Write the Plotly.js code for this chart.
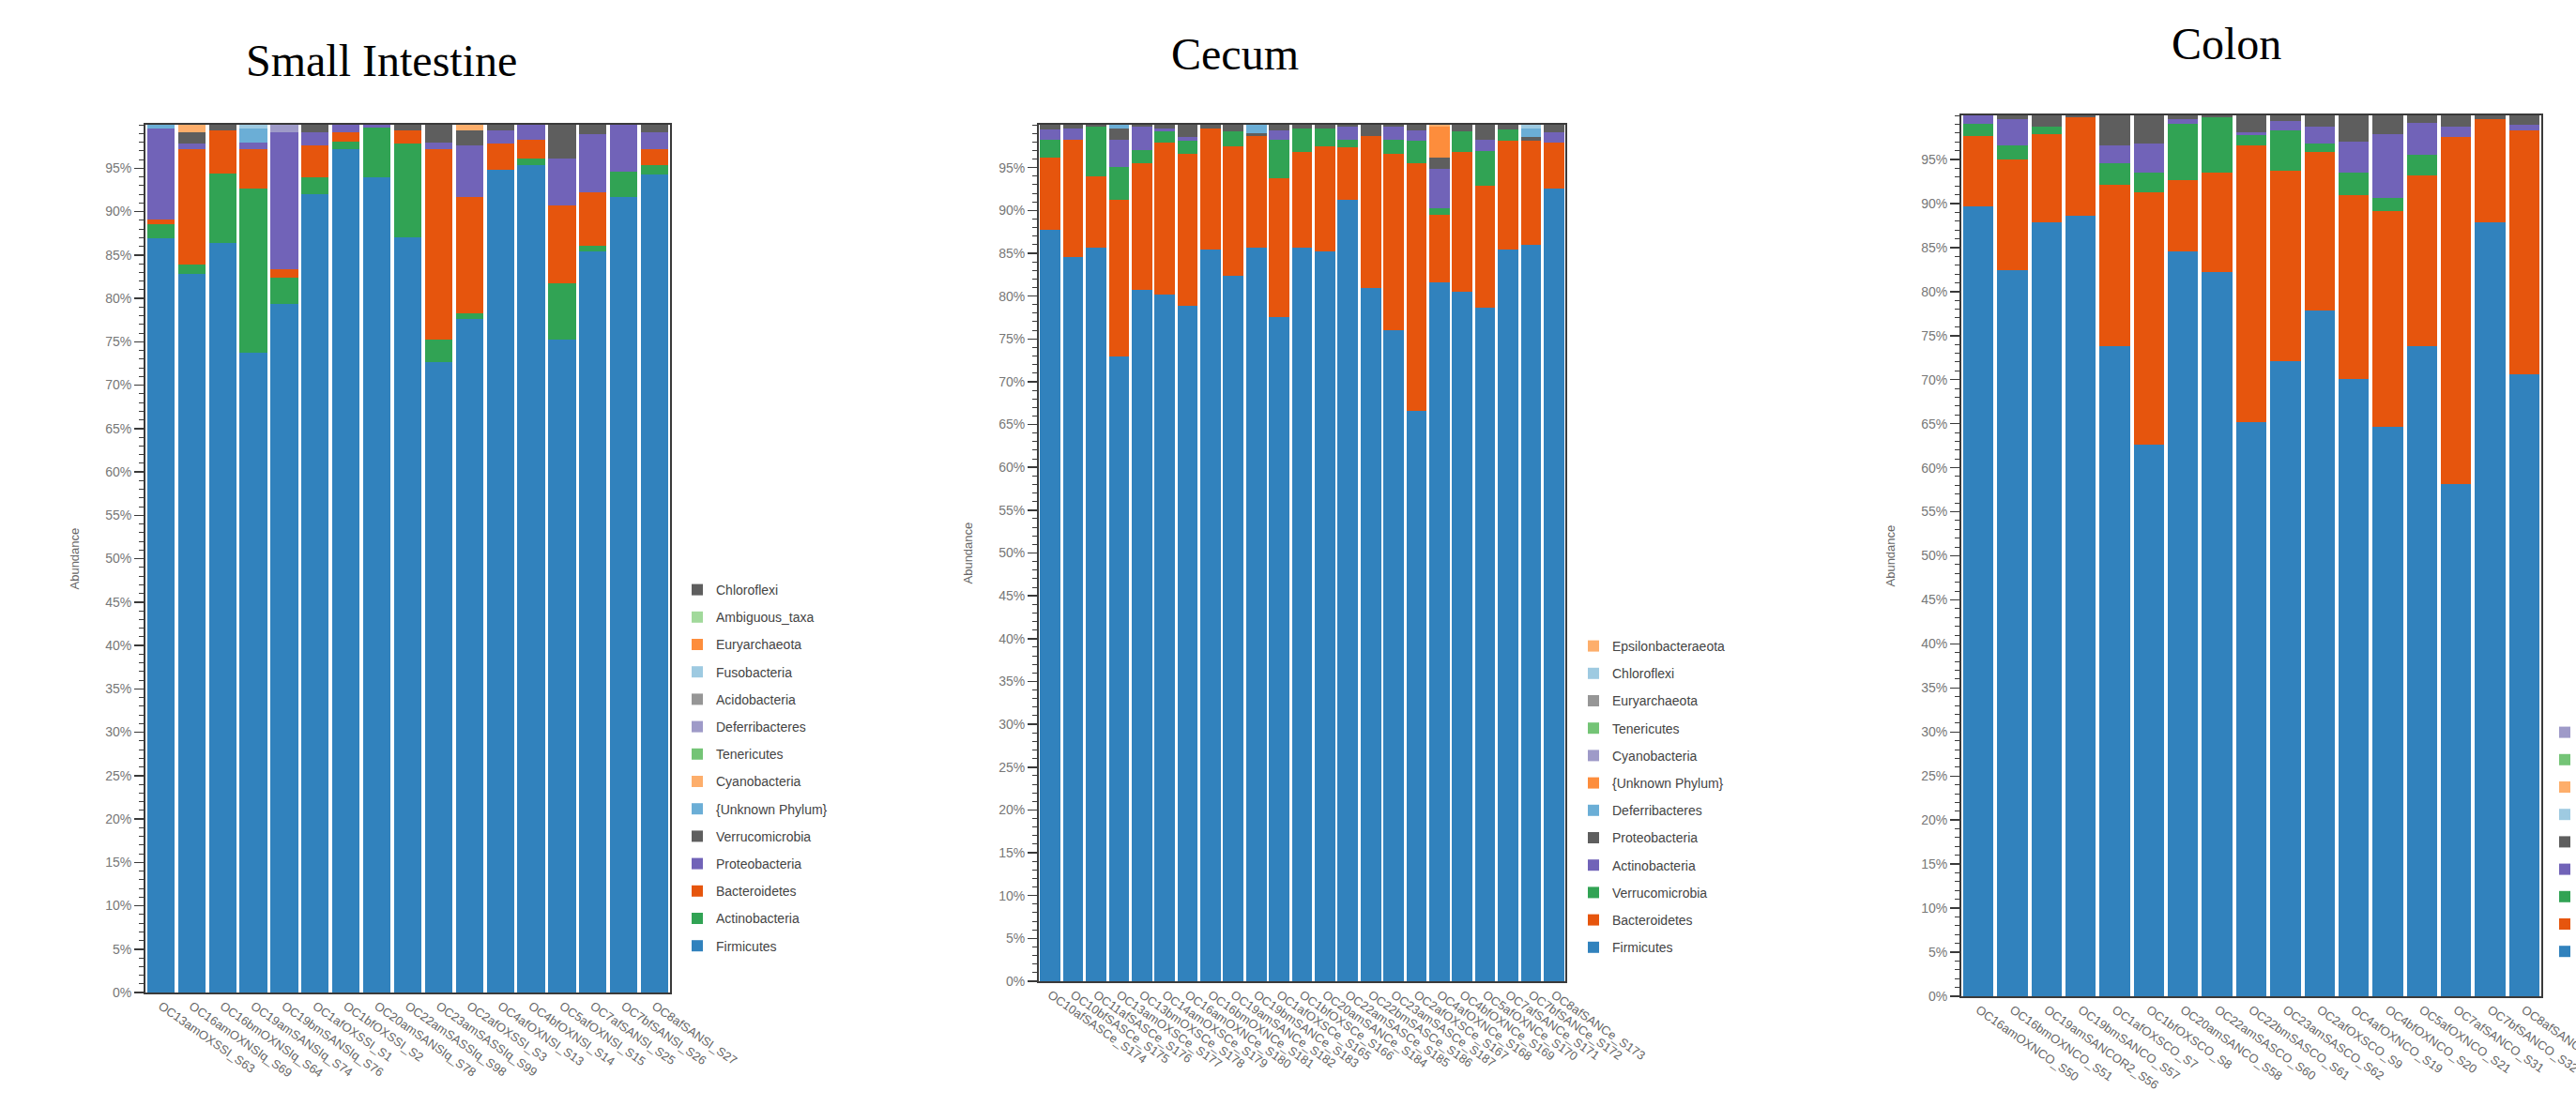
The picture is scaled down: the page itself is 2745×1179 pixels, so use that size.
<!DOCTYPE html>
<html><head><meta charset="utf-8">
<script src="https://cdn.plot.ly/plotly-3.0.1.min.js"></script>
<style>html,body{margin:0;padding:0;background:#fff;}#chart{width:2745px;height:1179px;}</style>
</head><body><div id="chart"></div>
<script>
// ---------------- Small Intestine ----------------
const siSamples = ["OC13amOXSSI_S63","OC16amOXNSIq_S69","OC16bmOXNSIq_S64","OC19amSANSIq_S74","OC19bmSANSIq_S76","OC1afOXSSI_S1","OC1bfOXSSI_S2","OC20amSANSIq_S78","OC22amSASSIq_S98","OC23amSASSIq_S99","OC2afOXSSI_S3","OC4afOXNSI_S13","OC4bfOXNSI_S14","OC5afOXNSI_S15","OC7afSANSI_S25","OC7bfSANSI_S26","OC8afSANSI_S27"];
const siFirmicutes      = [86.9,82.8,86.4,73.7,79.3,92.0,97.2,93.9,87.0,72.6,77.6,94.8,95.4,75.2,85.4,91.7,94.3];
const siActinobacteria  = [1.6,1.1,8.0,18.9,3.1,1.9,0.9,5.8,10.8,2.6,0.7,0,0.7,6.5,0.7,2.9,1.1];
const siBacteroidetes   = [0.6,13.3,5.0,4.6,0.9,3.7,1.0,0,1.6,22.0,13.4,3.0,2.2,9.0,6.1,0,1.8];
const siProteobacteria  = [10.5,0.6,0,0.8,15.8,1.5,0.9,0.3,0,0.8,5.9,1.5,1.7,5.4,6.7,5.4,1.9];
const siVerrucomicrobia = [0,1.3,0.6,0,0,0.9,0,0,0.6,2.0,1.7,0.7,0,3.9,1.1,0,0.9];
const siUnknownPhylum   = [0.4,0,0,1.6,0,0,0,0,0,0,0,0,0,0,0,0,0];
const siCyanobacteria   = [0,0.9,0,0,0,0,0,0,0,0,0.7,0,0,0,0,0,0];
const siTenericutes     = [0,0,0,0,0,0,0,0,0,0,0,0,0,0.05,0,0,0];
const siDeferribacteres = [0,0,0,0,0.9,0,0,0,0,0,0,0,0,0,0,0,0];
const siAcidobacteria   = [0,0,0,0,0,0,0,0,0,0.05,0,0,0,0,0,0,0];
const siFusobacteria    = [0,0,0,0.4,0,0,0,0,0,0,0,0,0,0,0,0,0];
const siEuryarchaeota   = [0,0.05,0,0,0,0,0,0,0,0,0,0,0,0,0,0,0];
const siAmbiguousTaxa   = [0,0,0,0,0,0,0,0,0,0,0,0,0,0,0.05,0,0];
const siChloroflexi     = [0,0,0,0,0,0,0,0,0,0,0,0,0,0.05,0,0,0];

// ---------------- Cecum ----------------
const ceSamples = ["OC10afSASCe_S174","OC10bfSASCe_S175","OC11afSASCe_S176","OC13amOXSCe_S177","OC13bmOXSCe_S178","OC14amOXSCe_S179","OC16amOXNCe_S180","OC16bmOXNCe_S181","OC19amSANCe_S182","OC19bmSANCe_S183","OC1afOXSCe_S165","OC1bfOXSCe_S166","OC20amSANCe_S184","OC22amSASCe_S185","OC22bmSASCe_S186","OC23amSASCe_S187","OC2afOXSCe_S167","OC4afOXNCe_S168","OC4bfOXNCe_S169","OC5afOXNCe_S170","OC7afSANCe_S171","OC7bfSANCe_S172","OC8afSANCe_S173"];
const ceFirmicutes         = [87.7,84.6,85.6,73.0,80.7,80.2,78.9,85.4,82.4,85.6,77.5,85.6,85.2,91.2,80.9,76.0,66.6,81.6,80.5,78.6,85.4,86.0,92.6];
const ceBacteroidetes      = [8.5,13.7,8.4,18.2,14.8,17.7,17.7,14.2,15.1,13.1,16.3,11.2,12.3,6.2,17.8,20.6,28.9,7.9,16.3,14.3,12.7,12.1,5.3];
const ceVerrucomicrobia    = [2.1,0,5.8,3.9,1.5,1.3,1.5,0,1.7,0,4.5,2.8,2.1,0.9,0,1.7,2.6,0.7,2.4,4.0,1.4,0,0];
const ceActinobacteria     = [1.2,1.3,0,3.2,2.8,0.4,0.5,0,0,0,1.0,0,0,1.5,0,1.5,1.2,4.7,0,1.4,0,0,1.2];
const ceProteobacteria     = [0.5,0.4,0.2,1.3,0.2,0.4,1.4,0.4,0.8,0.3,0.7,0.4,0.4,0.2,1.3,0.2,0.7,1.3,0.8,1.7,0.5,0.5,0.9];
const ceDeferribacteres    = [0,0,0,0.4,0,0,0,0,0,1.0,0,0,0,0,0,0,0,0,0,0,0,1.0,0];
const ceUnknownPhylum      = [0,0,0,0,0,0,0,0,0,0,0,0,0,0,0,0,0,3.6,0,0,0,0,0];
const ceCyanobacteria      = [0,0,0,0,0,0,0,0,0,0,0,0,0,0,0,0,0,0,0,0,0.05,0,0];
const ceTenericutes        = [0,0,0,0,0,0,0.05,0,0,0,0,0,0,0,0,0,0,0,0,0,0,0,0];
const ceEuryarchaeota      = [0,0,0,0,0,0,0,0,0,0,0,0,0,0,0.05,0,0,0,0,0,0,0,0];
const ceChloroflexi        = [0,0,0,0,0,0,0,0,0,0,0,0,0,0,0,0,0,0,0,0,0,0.4,0];
const ceEpsilonbacteraeota = [0,0,0,0,0,0,0,0,0,0,0,0,0,0,0,0,0,0.2,0,0,0,0,0];

// ---------------- Colon ----------------
const coSamples = ["OC16amOXNCO_S50","OC16bmOXNCO_S51","OC19amSANCOR2_S56","OC19bmSANCO_S57","OC1afOXSCO_S7","OC1bfOXSCO_S8","OC20amSANCO_S58","OC22amSASCO_S60","OC22bmSASCO_S61","OC23amSASCO_S62","OC2afOXSCO_S9","OC4afOXNCO_S19","OC4bfOXNCO_S20","OC5afOXNCO_S21","OC7afSANCO_S31","OC7bfSANCO_S32","OC8afSANCO_S33"];
const coFirmicutes      = [89.7,82.4,87.9,88.6,73.8,62.6,84.6,82.2,65.2,72.1,77.8,70.1,64.6,73.8,58.1,87.9,70.6];
const coBacteroidetes   = [8.0,12.6,10.0,11.2,18.3,28.7,8.0,11.3,31.4,21.6,18.1,20.9,24.5,19.4,39.5,11.7,27.7];
const coVerrucomicrobia = [1.3,1.6,0.8,0,2.5,2.2,6.4,6.3,1.2,4.6,0.9,2.5,1.5,2.3,0,0,0];
const coActinobacteria  = [1.0,3.0,0,0,2.0,3.3,0.6,0,0.3,1.1,1.9,3.5,7.3,3.7,1.1,0,0.6];
const coProteobacteria  = [0,0.4,1.3,0.2,3.4,3.2,0.4,0.2,1.9,0.6,1.3,3.0,2.1,0.8,1.3,0.4,1.1];
const coDeferribacteres = [0,0,0,0,0,0,0,0,0.05,0,0,0,0,0,0,0,0];
const coUnknownPhylum   = [0,0,0,0,0,0,0,0,0,0,0,0.05,0,0,0,0,0];
const coTenericutes     = [0,0,0,0,0,0,0.05,0,0,0,0,0,0,0,0,0,0];
const coCyanobacteria   = [0,0,0,0,0.05,0,0,0,0,0,0,0,0,0,0,0,0];

// ---------------- styling ----------------
const W = 2745, H = 1179;
const C = {
  blue:'#3182bd', orange:'#e6550d', green:'#31a354', purple:'#7163b8', dgrey:'#5e5e5e',
  lblue:'#6baed6', lorange:'#fd8d3c', lgreen:'#74c476', lpurple:'#9e9ac8', grey:'#969696',
  llblue:'#9ecae1', llorange:'#fdae6b', llgreen:'#a1d99b'
};
const siSeries = [
  ["Firmicutes", siFirmicutes, C.blue],
  ["Actinobacteria", siActinobacteria, C.green],
  ["Bacteroidetes", siBacteroidetes, C.orange],
  ["Proteobacteria", siProteobacteria, C.purple],
  ["Verrucomicrobia", siVerrucomicrobia, C.dgrey],
  ["{Unknown Phylum}", siUnknownPhylum, C.lblue],
  ["Cyanobacteria", siCyanobacteria, C.llorange],
  ["Tenericutes", siTenericutes, C.lgreen],
  ["Deferribacteres", siDeferribacteres, C.lpurple],
  ["Acidobacteria", siAcidobacteria, C.grey],
  ["Fusobacteria", siFusobacteria, C.llblue],
  ["Euryarchaeota", siEuryarchaeota, C.lorange],
  ["Ambiguous_taxa", siAmbiguousTaxa, C.llgreen],
  ["Chloroflexi", siChloroflexi, C.dgrey]
];
const ceSeries = [
  ["Firmicutes", ceFirmicutes, C.blue],
  ["Bacteroidetes", ceBacteroidetes, C.orange],
  ["Verrucomicrobia", ceVerrucomicrobia, C.green],
  ["Actinobacteria", ceActinobacteria, C.purple],
  ["Proteobacteria", ceProteobacteria, C.dgrey],
  ["Deferribacteres", ceDeferribacteres, C.lblue],
  ["{Unknown Phylum}", ceUnknownPhylum, C.lorange],
  ["Cyanobacteria", ceCyanobacteria, C.lpurple],
  ["Tenericutes", ceTenericutes, C.lgreen],
  ["Euryarchaeota", ceEuryarchaeota, C.grey],
  ["Chloroflexi", ceChloroflexi, C.llblue],
  ["Epsilonbacteraeota", ceEpsilonbacteraeota, C.llorange]
];
const coSeries = [
  ["Firmicutes", coFirmicutes, C.blue],
  ["Bacteroidetes", coBacteroidetes, C.orange],
  ["Verrucomicrobia", coVerrucomicrobia, C.green],
  ["Actinobacteria", coActinobacteria, C.purple],
  ["Proteobacteria", coProteobacteria, C.dgrey],
  ["Deferribacteres", coDeferribacteres, C.llblue],
  ["{Unknown Phylum}", coUnknownPhylum, C.llorange],
  ["Tenericutes", coTenericutes, C.lgreen],
  ["Cyanobacteria", coCyanobacteria, C.lpurple]
];

// panel boxes in pixels [left, right, top, bottom]
const boxes = {
  si: [155, 714, 133, 1058],
  ce: [1107, 1668, 133, 1046],
  co: [2090, 2708, 123, 1062]
};
const fx = p => p / W, fy = p => 1 - p / H;

const traces = [];
function addPanel(key, samples, series, xa, ya, legendId) {
  const n = series.length;
  series.forEach(([name, vals, color], i) => {
    traces.push({
      type: 'bar', name: name, x: samples, y: vals,
      xaxis: xa, yaxis: ya, legend: legendId,
      legendgroup: key + '_' + name, legendrank: 1000 - i,
      marker: {color: color, line: {width: 0}},
      hoverinfo: 'name+y'
    });
  });
}
addPanel('si', siSamples, siSeries, 'x', 'y', 'legend');
addPanel('ce', ceSamples, ceSeries, 'x2', 'y2', 'legend2');
addPanel('co', coSamples, coSeries, 'x3', 'y3', 'legend3');

const tickVals = [0,5,10,15,20,25,30,35,40,45,50,55,60,65,70,75,80,85,90,95];
const tickText = tickVals.map(v => v + '%');
function xAxis(box, anchor) {
  return {
    domain: [fx(box[0]), fx(box[1])], anchor: anchor, type: 'category',
    showline: true, linecolor: '#3a3a3a', linewidth: 2, mirror: true,
    ticks: '', tickangle: 35, showgrid: false, zeroline: false, automargin: false,
    tickfont: {family: 'Liberation Sans, Arial, sans-serif', size: 13, color: '#666'}
  };
}
function yAxis(box, anchor) {
  return {
    domain: [fy(box[3]), fy(box[2])], anchor: anchor, range: [0, 100],
    tickmode: 'array', tickvals: tickVals, ticktext: tickText,
    ticks: 'outside', ticklen: 10, tickwidth: 1.5, tickcolor: '#3a3a3a',
    minor: {tickmode: 'linear', tick0: 0, dtick: 1, ticks: 'outside', ticklen: 5, tickwidth: 1, tickcolor: '#3a3a3a', showgrid: false},
    showline: true, linecolor: '#3a3a3a', linewidth: 2, mirror: true,
    showgrid: false, zeroline: false, automargin: false,
    tickfont: {family: 'Liberation Sans, Arial, sans-serif', size: 14, color: '#777'}
  };
}
function legendAt(leftPx, bottomPx) {
  return {
    x: fx(leftPx), y: fy(bottomPx), xanchor: 'left', yanchor: 'bottom',
    traceorder: 'grouped', tracegroupgap: 8, itemwidth: 30,
    bgcolor: 'rgba(0,0,0,0)', borderwidth: 0,
    font: {family: 'Liberation Sans, Arial, sans-serif', size: 14, color: '#444'}
  };
}
function title(text, xPx, yPx) {
  return {text: text, xref: 'paper', yref: 'paper', x: fx(xPx), y: fy(yPx),
    xanchor: 'center', yanchor: 'middle', showarrow: false,
    font: {family: 'Liberation Serif, Times New Roman, serif', size: 48, color: '#000'}};
}
function yTitle(box) {
  return {text: 'Abundance', xref: 'paper', yref: 'paper',
    x: fx(box[0] - 76), y: fy((box[2] + box[3]) / 2), xanchor: 'center', yanchor: 'middle',
    textangle: -90, showarrow: false,
    font: {family: 'Liberation Sans, Arial, sans-serif', size: 13, color: '#666'}};
}

const layout = {
  width: W, height: H, margin: {l: 0, r: 0, t: 0, b: 0, autoexpand: false},
  paper_bgcolor: '#fff', plot_bgcolor: '#fff',
  barmode: 'stack', bargap: 0.11, showlegend: true,
  xaxis: xAxis(boxes.si, 'y'), yaxis: yAxis(boxes.si, 'x'),
  xaxis2: xAxis(boxes.ce, 'y2'), yaxis2: yAxis(boxes.ce, 'x2'),
  xaxis3: xAxis(boxes.co, 'y3'), yaxis3: yAxis(boxes.co, 'x3'),
  legend: legendAt(723, 1024),
  legend2: legendAt(1678, 1026),
  legend3: legendAt(2713, 1030),
  annotations: [
    title('Small Intestine', 406, 65),
    title('Cecum', 1316, 58),
    title('Colon', 2372, 47),
    yTitle(boxes.si), yTitle(boxes.ce), yTitle(boxes.co)
  ]
};
Plotly.newPlot('chart', traces, layout, {staticPlot: true, displayModeBar: false});
</script>
</body></html>
